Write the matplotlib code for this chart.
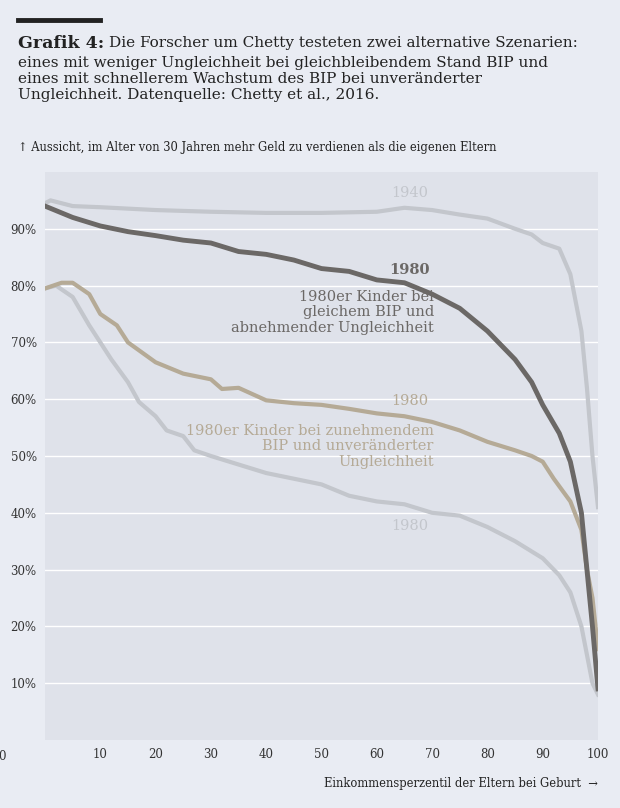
import matplotlib
matplotlib.use("Agg")
import matplotlib.pyplot as plt

# Perzentil / Anteil in Prozent
x_dark = [0, 5, 10, 15, 20, 25, 30, 35, 40, 45, 50, 55, 60, 65, 70, 75, 80, 85, 88, 90, 93, 95, 97, 98, 99, 100]
y_dark = [94, 92, 90.5, 89.5, 88.8, 88, 87.5, 86, 85.5, 84.5, 83, 82.5, 81, 80.5, 78.5, 76, 72, 67, 63, 59, 54, 49, 40, 30, 20, 9]

x_1940 = [0, 1, 5, 10, 20, 30, 40, 50, 60, 65, 70, 75, 80, 85, 88, 90, 93, 95, 97, 98, 99, 100]
y_1940 = [94.5, 95, 94, 93.8, 93.3, 93, 92.8, 92.8, 93, 93.7, 93.3, 92.5, 91.8, 90, 89, 87.5, 86.5, 82, 72, 62, 50, 41]

x_tan = [0, 3, 5, 8, 10, 13, 15, 20, 25, 30, 32, 35, 40, 45, 50, 55, 60, 65, 70, 75, 80, 85, 88, 90, 92, 95, 97, 98, 99, 100]
y_tan = [79.5, 80.5, 80.5, 78.5, 75, 73, 70, 66.5, 64.5, 63.5, 61.8, 62, 59.8, 59.3, 59, 58.3, 57.5, 57, 56, 54.5, 52.5, 51, 50, 49, 46, 42, 37, 30, 25, 16]

x_1980 = [0, 2, 5, 8, 10, 12, 15, 17, 20, 22, 25, 27, 30, 35, 40, 45, 50, 55, 60, 65, 70, 75, 80, 85, 90, 93, 95, 97, 98, 99, 100]
y_1980 = [79.5, 80, 78, 73, 70, 67, 63, 59.5, 57, 54.5, 53.5, 51, 50, 48.5, 47, 46, 45, 43, 42, 41.5, 40, 39.5, 37.5, 35, 32, 29, 26, 20, 15, 10, 8]

yticks = [10, 20, 30, 40, 50, 60, 70, 80, 90]
xticks = [10, 20, 30, 40, 50, 60, 70, 80, 90, 100]

BG = "#e9ecf3"
PLOT_BG = "#dfe2ea"
DARK = "#6b6866"
LIGHT = "#c3c6cc"
TAN = "#b5aa96"
SERIF = ["DejaVu Serif"]

fig = plt.figure(figsize=(6.2, 8.08), dpi=100, facecolor=BG)
ax = fig.add_axes([45 / 620, 1 - 740 / 808, 553 / 620, 568 / 808], facecolor=PLOT_BG)

ax.plot(x_1940, y_1940, color=LIGHT, lw=3)
ax.plot(x_1980, y_1980, color=LIGHT, lw=3)
ax.plot(x_tan, y_tan, color=TAN, lw=3)
ax.plot(x_dark, y_dark, color=DARK, lw=3.5)

ax.set_xlim(0, 100)
ax.set_ylim(0, 100)
ax.set_yticks(yticks)
ax.set_yticklabels([f"{v}%" for v in yticks])
ax.set_xticks(xticks)
ax.grid(True, axis="y", color="white", lw=1)
ax.set_axisbelow(True)
for s in ax.spines.values():
    s.set_visible(False)
ax.tick_params(length=0, labelsize=8.5, colors="#333333", pad=6)
for lab in ax.get_xticklabels() + ax.get_yticklabels():
    lab.set_family(SERIF)

fs = 10.5
ax.text(66, 95, "1940", color=LIGHT, fontsize=fs, ha="center", va="bottom", family=SERIF)
ax.text(66, 81.5, "1980", color=DARK, fontsize=fs, ha="center", va="bottom", weight="bold", family=SERIF)
ax.text(70.3, 79.3, "1980er Kinder bei\ngleichem BIP und\nabnehmender Ungleichheit", color=DARK,
        fontsize=fs, ha="right", va="top", family=SERIF, linespacing=1.15)
ax.text(66, 58.5, "1980", color=TAN, fontsize=fs, ha="center", va="bottom", family=SERIF)
ax.text(70.3, 55.7, "1980er Kinder bei zunehmendem\nBIP und unveränderter\nUngleichheit", color=TAN,
        fontsize=fs, ha="right", va="top", family=SERIF, linespacing=1.15)
ax.text(66, 36.5, "1980", color=LIGHT, fontsize=fs, ha="center", va="bottom", family=SERIF)

fig.text(2 / 620, 1 - 757 / 808, "0", fontsize=8.5, color="#333333", ha="center", va="center", family=SERIF)

fig.add_artist(plt.Line2D([18 / 620, 100 / 620], [1 - 20 / 808, 1 - 20 / 808], color="#222222", lw=3.5))
t = fig.text(18 / 620, 1 - 35 / 808, "Grafik 4:", fontsize=12.5, va="top", color="#222222",
             family=SERIF, weight="bold")
fig.canvas.draw()
bb = t.get_window_extent()
x0 = (bb.x1 + 5) / 620
fig.text(x0, 1 - 36 / 808, "Die Forscher um Chetty testeten zwei alternative Szenarien:",
         fontsize=11, va="top", color="#222222", family=SERIF)
fig.text(18 / 620, 1 - 56 / 808,
         "eines mit weniger Ungleichheit bei gleichbleibendem Stand BIP und\n"
         "eines mit schnellerem Wachstum des BIP bei unveränderter\n"
         "Ungleichheit. Datenquelle: Chetty et al., 2016.",
         fontsize=11, va="top", color="#222222", family=SERIF, linespacing=1.2)
fig.text(18 / 620, 1 - 148 / 808, "↑ Aussicht, im Alter von 30 Jahren mehr Geld zu verdienen als die eigenen Eltern",
         fontsize=8.3, va="center", color="#222222", family=SERIF)
fig.text(598 / 620, 1 - 784 / 808, "Einkommensperzentil der Eltern bei Geburt  →",
         fontsize=8.3, va="center", ha="right", color="#222222", family=SERIF)

fig.savefig("out.png", dpi=100, facecolor=BG)
